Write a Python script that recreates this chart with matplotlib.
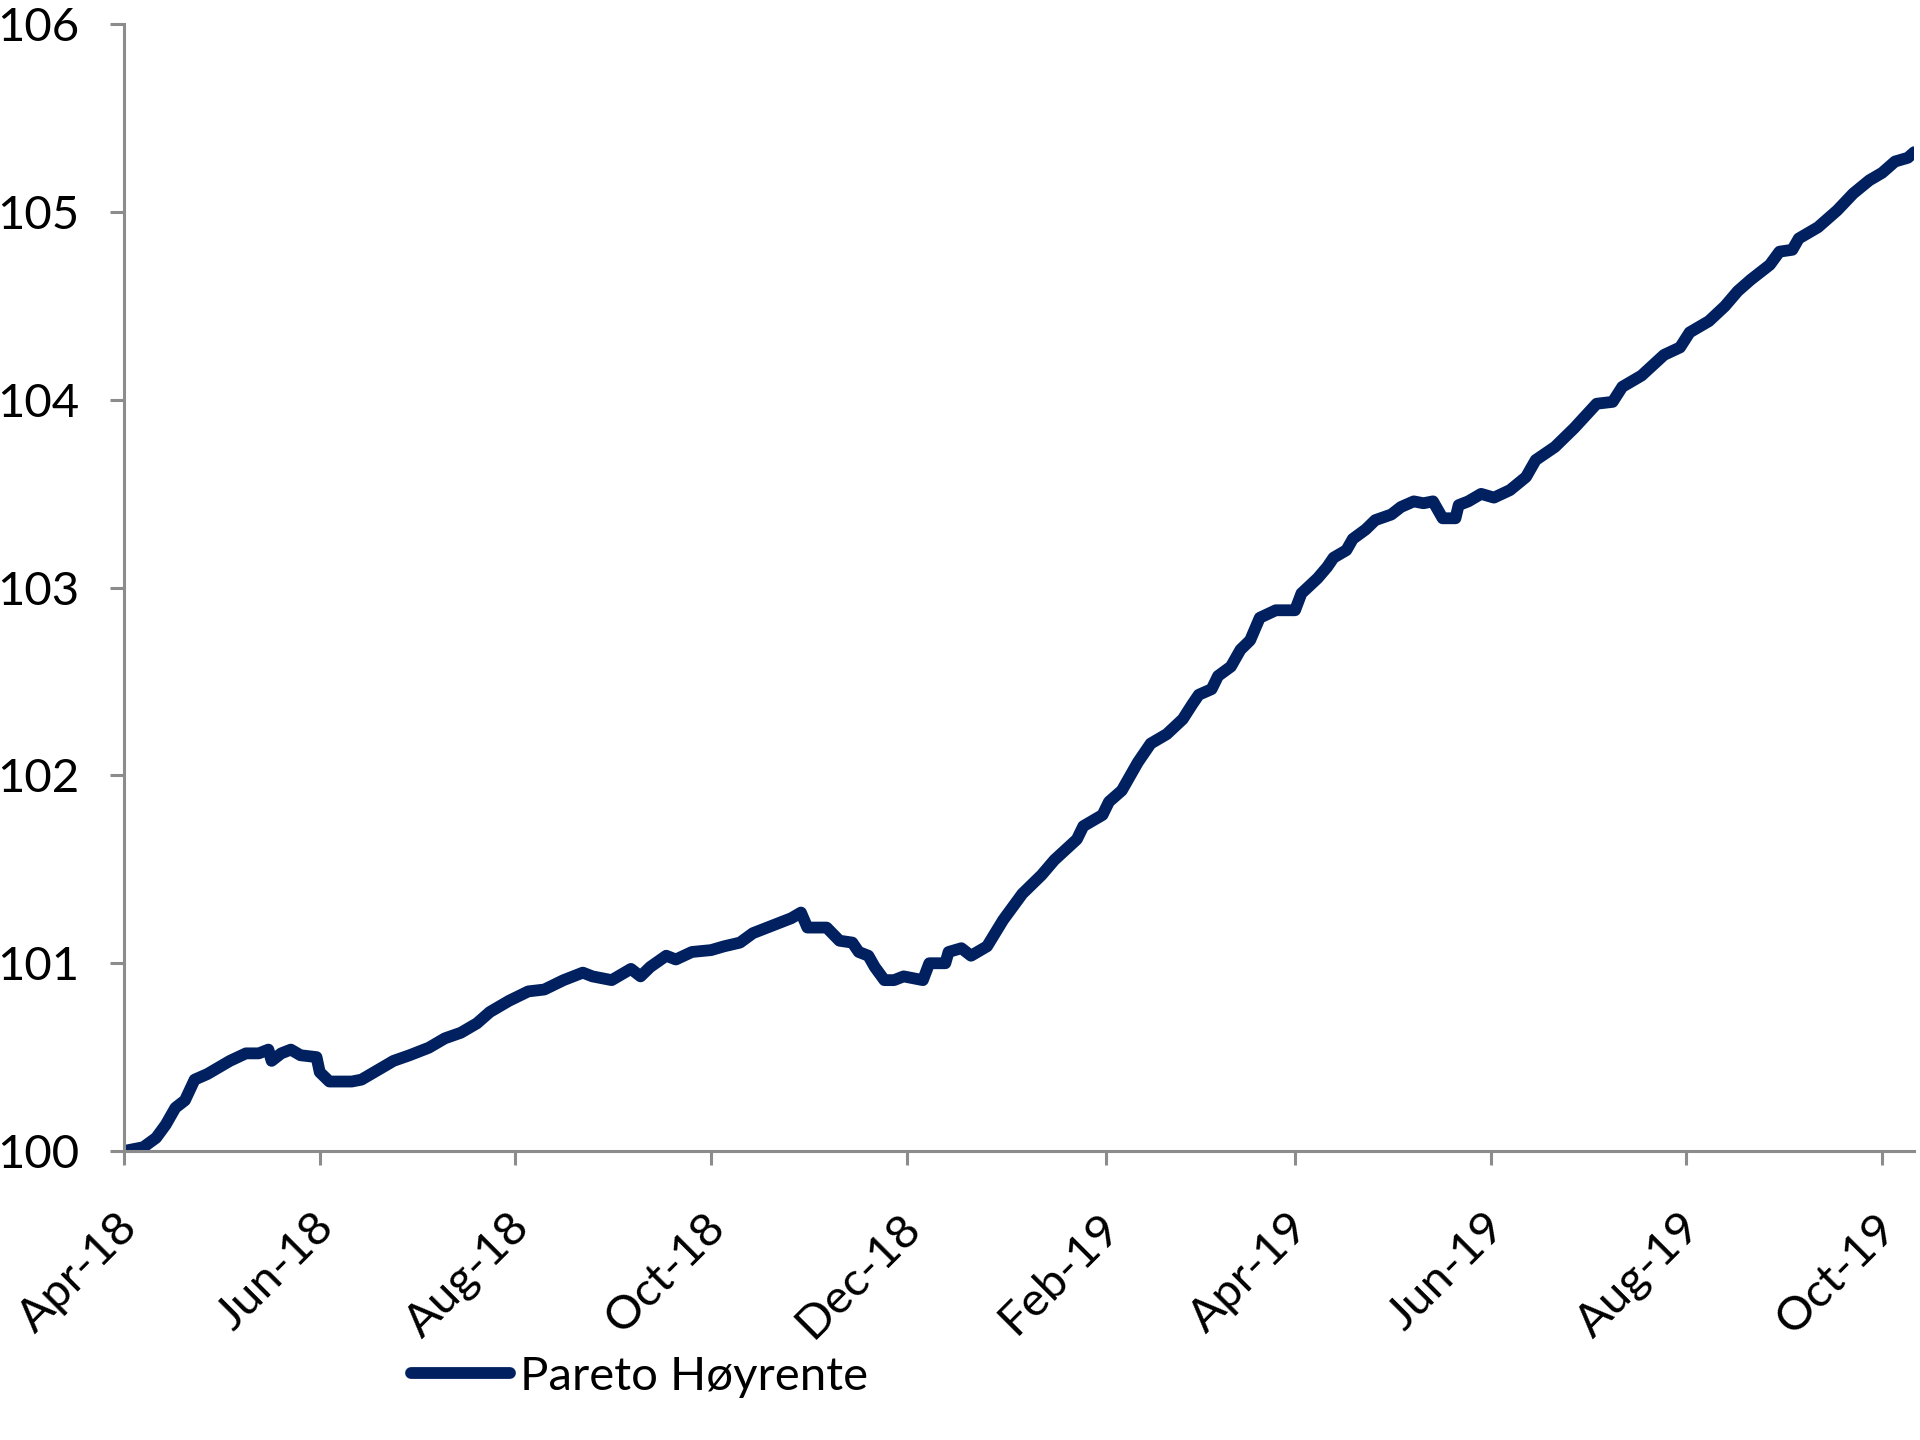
import matplotlib.pyplot as plt
import matplotlib.dates as mdates
import matplotlib.transforms as mtransforms
import numpy as np
import pandas as pd

# index level, days counted from 1 Apr 2018
start = pd.Timestamp('2018-04-01')
days = [0, 6, 10, 13, 16, 19, 22, 26, 29, 33, 38, 42, 45, 46, 49, 52, 55, 60,
        61, 64, 67, 71, 74, 77, 80, 84, 89, 95, 100, 105, 110, 114, 120, 126,
        131, 137, 143, 146, 152, 158, 161, 164, 169, 172, 177, 183, 187, 192,
        196, 202, 208, 211, 213, 219, 223, 227, 229, 232, 234, 237, 240, 243,
        249, 251, 256, 257, 261, 264, 269, 274, 280, 286, 290, 297, 299, 305,
        307, 311, 313, 316, 320, 325, 330, 333, 335, 339, 341, 345, 348, 351,
        354, 359, 365, 367, 372, 375, 377, 381, 383, 387, 390, 395, 398, 402,
        405, 408, 411, 415, 416, 419, 423, 427, 432, 437, 440, 446, 452, 459,
        464, 467, 473, 480, 485, 488, 494, 499, 503, 507, 513, 516, 520, 522,
        528, 534, 539, 544, 548, 552, 556, 558]
level = [100.00, 100.02, 100.07, 100.14, 100.23, 100.27, 100.38, 100.41, 100.44,
         100.48, 100.52, 100.52, 100.54, 100.48, 100.52, 100.54, 100.51, 100.50,
         100.42, 100.37, 100.37, 100.37, 100.38, 100.41, 100.44, 100.48, 100.51,
         100.55, 100.60, 100.63, 100.68, 100.74, 100.80, 100.85, 100.86, 100.91,
         100.95, 100.93, 100.91, 100.97, 100.93, 100.98, 101.04, 101.02, 101.06,
         101.07, 101.09, 101.11, 101.16, 101.20, 101.24, 101.27, 101.19, 101.19,
         101.12, 101.11, 101.06, 101.04, 100.98, 100.91, 100.91, 100.93, 100.91,
         101.00, 101.00, 101.06, 101.08, 101.04, 101.09, 101.23, 101.37, 101.47,
         101.55, 101.66, 101.73, 101.79, 101.86, 101.92, 101.98, 102.07, 102.17,
         102.22, 102.30, 102.38, 102.43, 102.46, 102.53, 102.58, 102.67, 102.72,
         102.84, 102.88, 102.88, 102.97, 103.05, 103.11, 103.16, 103.20, 103.26,
         103.31, 103.36, 103.39, 103.43, 103.46, 103.45, 103.46, 103.37, 103.37,
         103.44, 103.46, 103.50, 103.48, 103.52, 103.59, 103.68, 103.75, 103.85,
         103.98, 103.99, 104.07, 104.13, 104.24, 104.28, 104.36, 104.42, 104.50,
         104.58, 104.64, 104.72, 104.79, 104.80, 104.86, 104.92, 105.01, 105.10,
         105.17, 105.21, 105.27, 105.29, 105.32]
dates = start + pd.to_timedelta(days, unit='D')

tick_dates = pd.date_range('2018-04-01', '2019-10-01', freq='2MS')
y_ticks = [100, 101, 102, 103, 104, 105, 106]

plt.rcParams['font.family'] = ['Lato', 'DejaVu Sans']
axis_grey = '#8c8c8c'

fig = plt.figure(figsize=(19.2, 14.4), dpi=100)
ax = fig.add_axes([0.0646, 0.2007, 0.9324, 0.7823])

ax.plot(dates, level, color='#002060', lw=8.5, solid_capstyle='round',
        solid_joinstyle='round', label='Pareto Høyrente')

ax.set_xlim(start, pd.Timestamp('2019-10-11'))
ax.set_ylim(100, 106)
ax.set_yticks(y_ticks)
ax.set_xticks(tick_dates)
ax.xaxis.set_major_formatter(mdates.DateFormatter('%b-%y'))

for side in ['top', 'right']:
    ax.spines[side].set_visible(False)
for side in ['left', 'bottom']:
    ax.spines[side].set_color(axis_grey)
    ax.spines[side].set_linewidth(2.2)

ax.tick_params(axis='both', direction='out', length=10, width=2.2,
               color=axis_grey, labelsize=34)
ax.tick_params(axis='y', pad=22)
ax.tick_params(axis='x', pad=40)
shift = mtransforms.ScaledTranslation(0.07, 0, fig.dpi_scale_trans)
for lbl in ax.get_xticklabels():
    lbl.set_rotation(45)
    lbl.set_ha('right')
    lbl.set_va('center')
    lbl.set_rotation_mode('anchor')
    lbl.set_transform(lbl.get_transform() + shift)

fig.legend(loc='center left', bbox_to_anchor=(0.192, 0.044), frameon=False,
           fontsize=34, handlelength=2.1, handletextpad=0.2)

fig.savefig('out.png', dpi=100)
